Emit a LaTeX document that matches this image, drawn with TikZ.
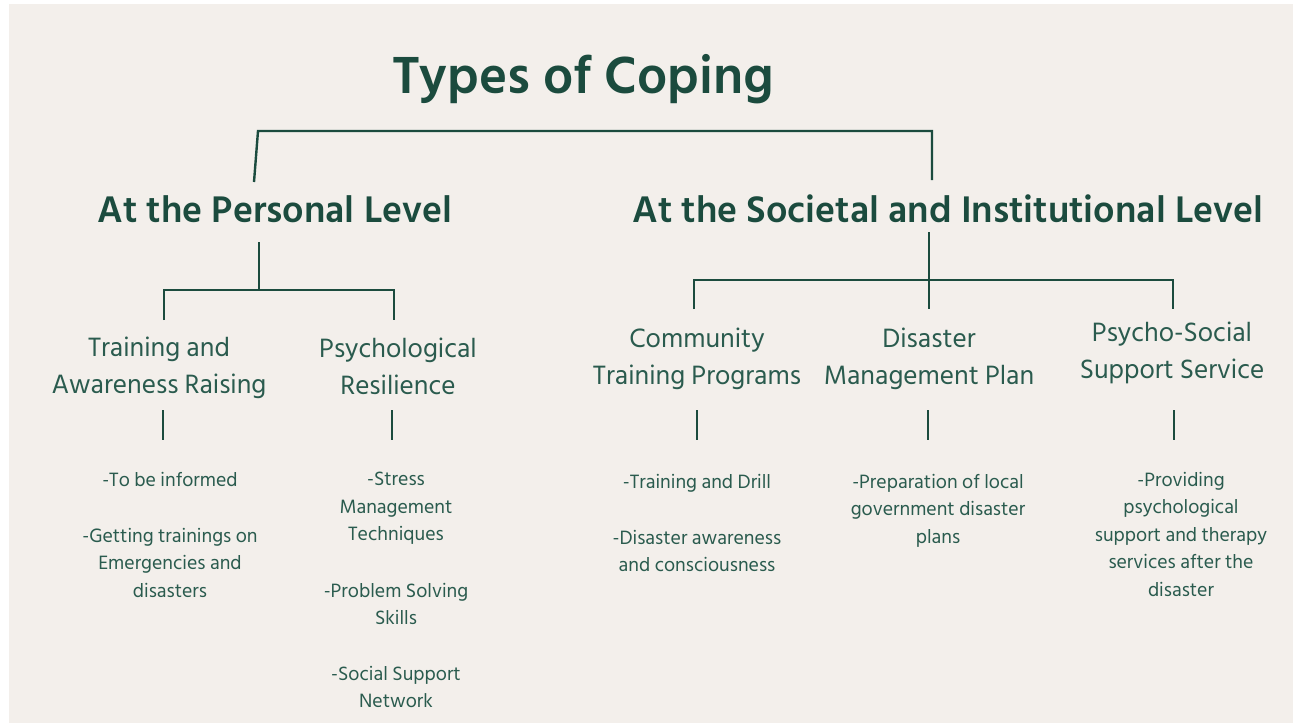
\documentclass[tikz,border=0pt]{standalone}
\usepackage{fontspec}
\setmainfont{Hind Siliguri}
\definecolor{bg}{HTML}{F3EFEB}
\definecolor{dg}{HTML}{1B4B3E}
\definecolor{tg}{HTML}{2A5B4E}
\begin{document}
\begin{tikzpicture}[x=1pt,y=-1pt,
  ln/.style={draw=dg,line width=2.4pt},
  ttl/.style={text=dg,font=\fontsize{53.5}{56}\selectfont\bfseries,inner sep=0pt},
  hd/.style={text=dg,font=\fontsize{38}{40}\selectfont\bfseries,inner sep=0pt},
  sub/.style={text=tg,font=\fontsize{27.2}{37}\selectfont,align=center,inner sep=0pt},
  itm/.style={text=tg,font=\fontsize{19.8}{27.5}\selectfont,align=center,inner sep=0pt}]
\useasboundingbox (0,0) rectangle (1293,723);
\fill[white] (0,0) rectangle (1293,723);
\fill[bg] (9,4) rectangle (1293,723);
% title and headings
\node[ttl] (title) at (583,79) {Types of Coping};
\node[hd] (pers) at (275,209) {At the Personal Level};
\node[hd] (soc) at (948,209) {At the Societal and Institutional Level};
% sub headings
\node[sub] (tar) at (159,368) {Training and\\Awareness Raising};
\node[sub] (psr) at (398,366) {Psychological\\Resilience};
\node[sub] (ctp) at (697,359) {Community\\Training Programs};
\node[sub] (dmp) at (929,359) {Disaster\\Management Plan};
\node[sub] (pss) at (1172,353) {Psycho-Social\\Support Service};
% items
\node[itm,anchor=north] (i1a) at (170,472) {-To be informed};
\node[itm,anchor=north] (i1b) at (170,528) {-Getting trainings on\\Emergencies and\\disasters};
\node[itm,anchor=north] (i2a) at (396,472) {-Stress\\Management\\Techniques};
\node[itm,anchor=north] (i2b) at (396,583) {-Problem Solving\\Skills};
\node[itm,anchor=north] (i2c) at (396,666) {-Social Support\\Network};
\node[itm,anchor=north] (i3a) at (697,474) {-Training and Drill};
\node[itm,anchor=north] (i3b) at (697,530) {-Disaster awareness\\and consciousness};
\node[itm,anchor=north] (i4a) at (938,474) {-Preparation of local\\government disaster\\plans};
\node[itm,anchor=north] (i5a) at (1181,472) {-Providing\\psychological\\support and therapy\\services after the\\disaster};
% junction coordinates
\coordinate (t1) at (254,182); \coordinate (t2) at (258,131);
\coordinate (t3) at (932,131); \coordinate (t4) at (932,180);
\coordinate (p0) at (259,242); \coordinate (p1) at (259,290);
\coordinate (pl) at (164,290); \coordinate (pr) at (394,290);
\coordinate (pld) at (164,320); \coordinate (prd) at (394,320);
\coordinate (s0) at (929,232); \coordinate (s2) at (929,309);
\coordinate (sl) at (694,280); \coordinate (sr) at (1173,280);
\coordinate (sld) at (694,309); \coordinate (srd) at (1173,309);
% stems
\coordinate (v1a) at (163,410); \coordinate (v1b) at (163,440);
\coordinate (v2a) at (392,410); \coordinate (v2b) at (392,440);
\coordinate (v3a) at (697,410); \coordinate (v3b) at (697,440);
\coordinate (v4a) at (928,410); \coordinate (v4b) at (928,440);
\coordinate (v5a) at (1174,410); \coordinate (v5b) at (1174,440);
% connectors
\draw[ln] (t1) -- (t2) -- (t3) -- (t4);
\draw[ln] (p0) -- (p1);
\draw[ln] (pld) -- (pl) -- (pr) -- (prd);
\draw[ln] (s0) -- (s2);
\draw[ln] (sld) -- (sl) -- (sr) -- (srd);
\foreach \k in {1,...,5} \draw[ln] (v\k a) -- (v\k b);
\end{tikzpicture}
\end{document}
